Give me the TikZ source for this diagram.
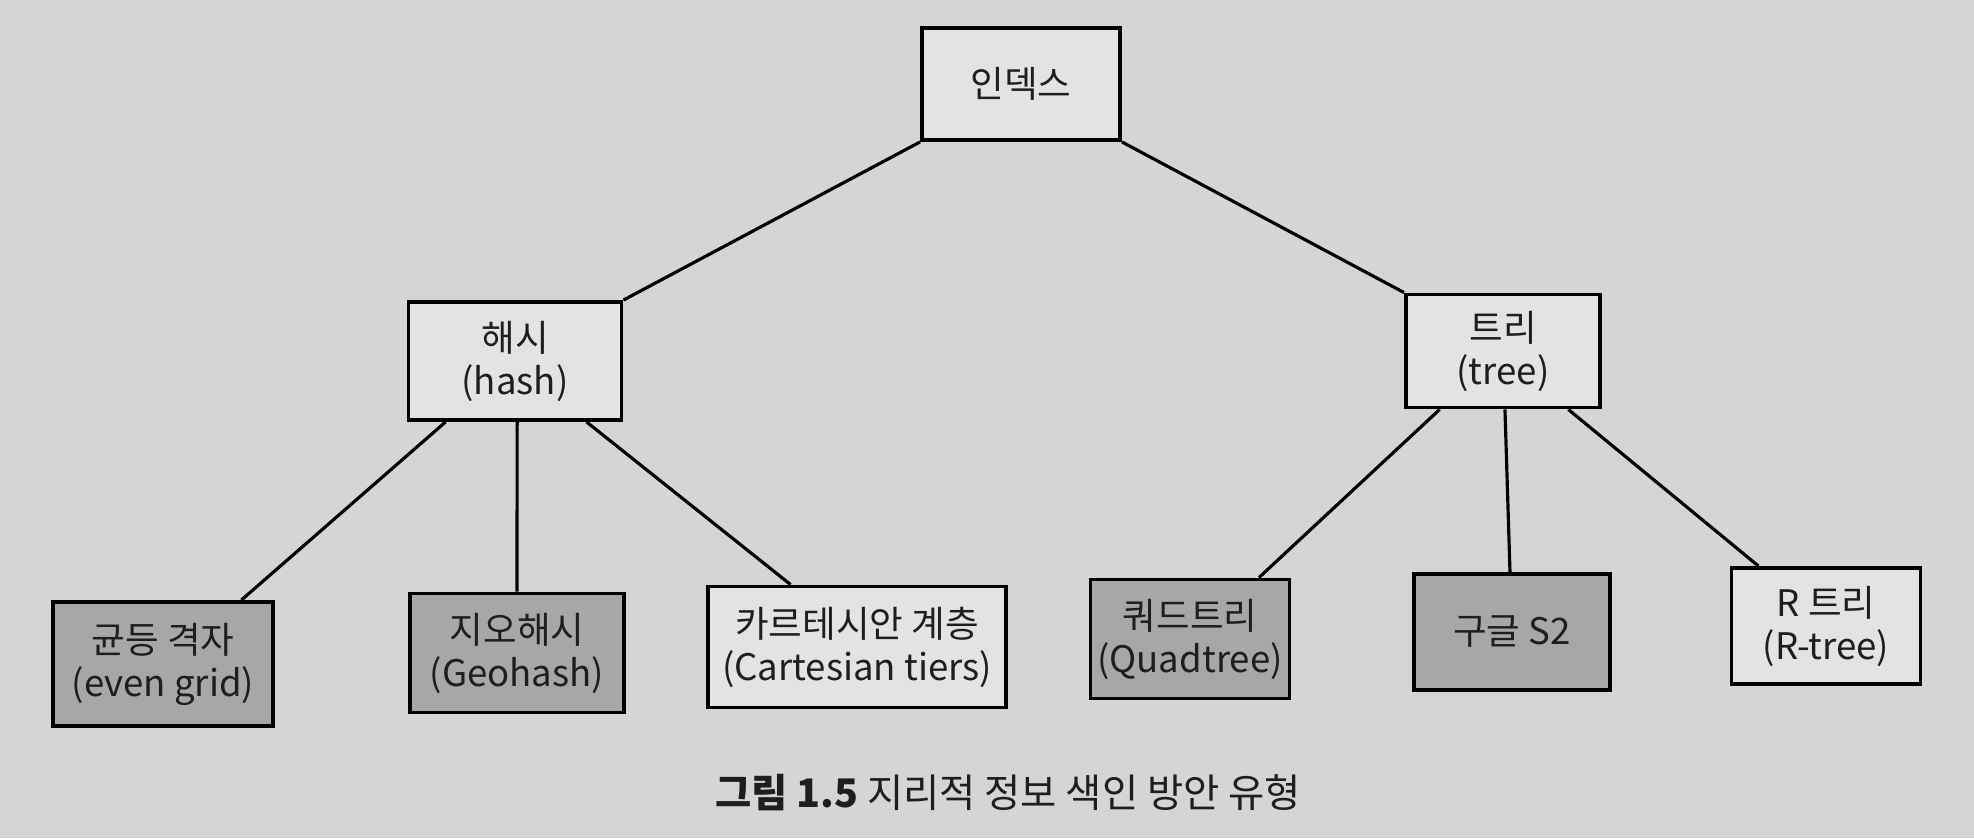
\documentclass[tikz,border=0pt]{standalone}
\usepackage{fontspec}
\setmainfont{Noto Sans CJK KR}
\usepackage{tikz}
\usetikzlibrary{calc}
\definecolor{pagebg}{HTML}{D5D5D3}
\definecolor{boxlight}{HTML}{E3E3E1}
\definecolor{boxdark}{HTML}{A7A7A5}
\definecolor{inkgray}{HTML}{1E1E1E}

\begin{document}
\begin{tikzpicture}[x=0.01cm, y=-0.01cm,
    box/.style={draw=black, line width=1.1pt, fill=boxlight, align=center, inner sep=0pt,
      text=inkgray, font=\fontsize{10.4}{12.2}\selectfont},
    darkbox/.style={box, fill=boxdark},
    link/.style={line width=0.9pt, black}]
    \fill[pagebg] (0,0) rectangle (1974,838);
    \useasboundingbox (0,0) rectangle (1974,838);

    % Root
    \node[box, minimum width=1.98cm, minimum height=1.12cm] (idx) at (1021, 84) {인덱스};

    % Hash side
    \node[box, minimum width=2.13cm, minimum height=1.18cm] (hash) at (515, 361) {해시\\(hash)};
    \node[darkbox, minimum width=2.20cm, minimum height=1.24cm] (grid) at (163, 664) {균등 격자\\(even grid)};
    \node[darkbox, minimum width=2.14cm, minimum height=1.19cm] (geo) at (517, 653) {지오해시\\(Geohash)};
    \node[box, minimum width=2.98cm, minimum height=1.21cm] (cart) at (857, 647) {카르테시안 계층\\(Cartesian tiers)};

    % Tree side
    \node[box, minimum width=1.94cm, minimum height=1.13cm] (tree) at (1503, 351) {트리\\(tree)};
    \node[darkbox, minimum width=1.99cm, minimum height=1.19cm] (quad) at (1190, 639) {쿼드트리\\(Quadtree)};
    \node[darkbox, minimum width=1.96cm, minimum height=1.16cm] (s2) at (1512, 632) {구글 S2};
    \node[box, minimum width=1.89cm, minimum height=1.16cm] (rtree) at (1826, 626) {R 트리\\(R-tree)};

    % Links
    \draw[link] (idx.south west) -- (hash.north east);
    \draw[link] (idx.south east) -- (tree.north west);
    \draw[link] ($(hash.south west)!0.18!(hash.south east)$) -- ($(grid.north west)!0.85!(grid.north east)$);
    \draw[link] ($(hash.south west)!0.51!(hash.south east)$) -- ($(geo.north west)!0.5!(geo.north east)$);
    \draw[link] ($(hash.south west)!0.83!(hash.south east)$) -- ($(cart.north west)!0.28!(cart.north east)$);
    \draw[link] ($(tree.south west)!0.18!(tree.south east)$) -- ($(quad.north west)!0.84!(quad.north east)$);
    \draw[link] ($(tree.south west)!0.51!(tree.south east)$) -- ($(s2.north west)!0.49!(s2.north east)$);
    \draw[link] ($(tree.south west)!0.83!(tree.south east)$) -- ($(rtree.north west)!0.15!(rtree.north east)$);

    % Caption
    \node[text=inkgray, font=\fontsize{11.2}{13.5}\selectfont] (caption) at (1008, 793) {\textbf{그림 1.5} 지리적 정보 색인 방안 유형};
\end{tikzpicture}
\end{document}
